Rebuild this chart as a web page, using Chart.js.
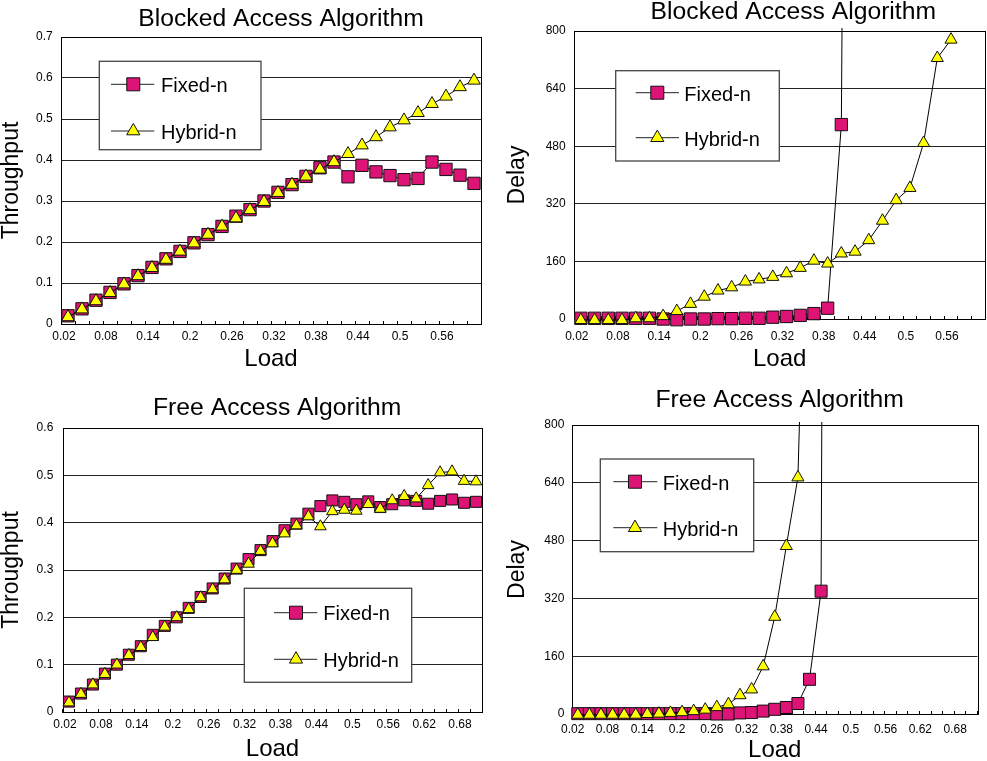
<!DOCTYPE html>
<html>
<head>
<meta charset="utf-8">
<script src="https://cdn.jsdelivr.net/npm/chart.js"></script>
<style>
  html, body { margin: 0; padding: 0; background: #fff; }
  body { width: 987px; height: 761px; overflow: hidden; position: relative; }
  canvas { position: absolute; }
</style>
</head>
<body>
<canvas id="c1" width="493" height="380" style="left:0px;top:0px;width:493px;height:380px"></canvas>
<canvas id="c2" width="500" height="380" style="left:495px;top:0px;width:500px;height:380px"></canvas>
<canvas id="c3" width="493" height="376" style="left:0px;top:385px;width:493px;height:376px"></canvas>
<canvas id="c4" width="492" height="376" style="left:495px;top:385px;width:492px;height:376px"></canvas>
<script>
// ---------- data ----------
const loadsBlocked = [0.02,0.04,0.06,0.08,0.1,0.12,0.14,0.16,0.18,0.2,0.22,0.24,0.26,0.28,0.3,0.32,0.34,0.36,0.38,0.4,0.42,0.44,0.46,0.48,0.5,0.52,0.54,0.56,0.58,0.6];
const loadsFree = [0.02,0.04,0.06,0.08,0.1,0.12,0.14,0.16,0.18,0.2,0.22,0.24,0.26,0.28,0.3,0.32,0.34,0.36,0.38,0.4,0.42,0.44,0.46,0.48,0.5,0.52,0.54,0.56,0.58,0.6,0.62,0.64,0.66,0.68,0.7];

const seriesNames = ['Fixed-n', 'Hybrid-n'];

// Blocked Access – Throughput
const blockedThroughputFixed  = [0.02,0.037,0.058,0.077,0.098,0.118,0.138,0.159,0.177,0.198,0.218,0.238,0.263,0.279,0.3,0.321,0.34,0.36,0.381,0.395,0.359,0.387,0.371,0.362,0.352,0.355,0.395,0.377,0.363,0.343];
const blockedThroughputHybrid = [0.017,0.036,0.056,0.076,0.097,0.117,0.137,0.157,0.177,0.197,0.218,0.238,0.258,0.278,0.298,0.32,0.34,0.36,0.377,0.395,0.415,0.436,0.456,0.48,0.497,0.515,0.537,0.555,0.578,0.594];

// Blocked Access – Delay
const blockedDelayFixed  = [2,2,2,2,2,2,0,-2,0,0,1,1,2,2,5,7,10,15,30,540,6000];
const blockedDelayHybrid = [-3,-3,-3,-3,2,2,8,22,42,62,79,88,104,110,117,127,142,162,154,182,187,219,273,330,364,489,725,776];

// Free Access – Throughput
const freeThroughputFixed  = [0.022,0.039,0.058,0.081,0.1,0.121,0.139,0.163,0.182,0.2,0.22,0.243,0.261,0.282,0.303,0.323,0.342,0.361,0.384,0.398,0.419,0.435,0.447,0.444,0.439,0.445,0.433,0.439,0.447,0.446,0.44,0.446,0.449,0.442,0.444];
const freeThroughputHybrid = [0.02,0.038,0.058,0.08,0.1,0.12,0.137,0.158,0.18,0.2,0.217,0.242,0.259,0.28,0.3,0.313,0.34,0.356,0.377,0.394,0.413,0.392,0.424,0.427,0.425,0.439,0.429,0.447,0.456,0.451,0.479,0.506,0.508,0.488,0.487];

// Free Access – Delay
const freeDelayFixed  = [1,1,1,1,1,1,1,1,1,1,1,1,0,0,3,4,8,13,18,29,96,340,8000];
const freeDelayHybrid = [-2,-2,-2,-2,-2,-2,0,1,3,5,8,12,19,27,52,68,132,269,465,655,1800];

// ---------- styling ----------
const FONT = '"Liberation Sans", Arial, Helvetica, sans-serif';
const MAGENTA = '#DD1475';
const YELLOW = '#FFFF00';
Chart.defaults.font.family = FONT;
Chart.defaults.color = '#000';

function drawMarker(ctx, style, x, y, r, fill) {
  ctx.beginPath();
  if (style === 'rect') {
    const s = Math.SQRT1_2 * r;
    ctx.rect(x - s, y - s, 2 * s, 2 * s);
  } else {
    const a = 2 * Math.PI / 3;
    let rad = 0;
    ctx.moveTo(x + Math.sin(rad) * r, y - Math.cos(rad) * r);
    rad += a; ctx.lineTo(x + Math.sin(rad) * r, y - Math.cos(rad) * r);
    rad += a; ctx.lineTo(x + Math.sin(rad) * r, y - Math.cos(rad) * r);
    ctx.closePath();
  }
  ctx.fillStyle = fill;
  ctx.fill();
  ctx.strokeStyle = '#111';
  ctx.lineWidth = 1;
  ctx.stroke();
}

function makeChart(id, cfg) {
  const plugin = {
    id: 'frameLegend',
    afterLayout(chart) {
      const tb = chart.titleBlock;
      if (tb) {
        const w = tb.right - tb.left;
        tb.left = cfg.titleX - w / 2;
        tb.right = cfg.titleX + w / 2;
      }
    },
    beforeDatasetsDraw(chart) {
      const {ctx, chartArea: a} = chart;
      ctx.save();
      ctx.strokeStyle = '#000';
      ctx.lineWidth = 1;
      ctx.strokeRect(Math.round(a.left) + 0.5, Math.round(a.top) + 0.5,
                     Math.round(a.right - a.left), Math.round(a.bottom - a.top));
      ctx.restore();
    },
    afterDatasetsDraw(chart) {
      const L = cfg.legend;
      const ctx = chart.ctx;
      ctx.save();
      ctx.fillStyle = '#fff';
      ctx.fillRect(L.box[0], L.box[1], L.box[2] - L.box[0], L.box[3] - L.box[1]);
      ctx.strokeStyle = '#444';
      ctx.lineWidth = 1.3;
      ctx.strokeRect(L.box[0], L.box[1], L.box[2] - L.box[0], L.box[3] - L.box[1]);
      chart.data.datasets.forEach((ds, i) => {
        const y = L.ys[i];
        ctx.strokeStyle = '#222';
        ctx.lineWidth = 1;
        ctx.beginPath();
        ctx.moveTo(L.lx[0], y);
        ctx.lineTo(L.lx[1], y);
        ctx.stroke();
        drawMarker(ctx, ds.pointStyle, L.mx, y, ds.pointStyle === 'rect' ? 9.2 : 7.6, ds.pointBackgroundColor);
        ctx.fillStyle = '#000';
        ctx.font = '20px ' + FONT;
        ctx.textAlign = 'left';
        ctx.textBaseline = 'alphabetic';
        ctx.fillText(ds.label, L.tx, y + L.bo);
      });
      ctx.restore();
    }
  };

  const labels = cfg.loads.map(v => String(v));
  new Chart(document.getElementById(id), {
    type: 'line',
    data: {
      labels: labels,
      datasets: [
        {
          label: seriesNames[0], data: cfg.fixed,
          pointStyle: 'rect', pointRadius: cfg.rSq, pointHoverRadius: cfg.rSq,
          pointBackgroundColor: MAGENTA, pointBorderColor: '#111', pointBorderWidth: 1,
          borderColor: '#000', borderWidth: 1, tension: 0, fill: false,
          order: 1, clip: cfg.clip
        },
        {
          label: seriesNames[1], data: cfg.hybrid,
          pointStyle: 'triangle', pointRadius: cfg.rTri, pointHoverRadius: cfg.rTri,
          pointBackgroundColor: YELLOW, pointBorderColor: '#111', pointBorderWidth: 1,
          borderColor: '#000', borderWidth: 1, tension: 0, fill: false,
          order: 0, clip: cfg.clip
        }
      ]
    },
    options: {
      responsive: false,
      animation: false,
      events: [],
      layout: { padding: { left: 0, right: cfg.padRight, top: 0, bottom: 0 } },
      plugins: {
        legend: { display: false },
        tooltip: { enabled: false },
        title: {
          display: true, text: cfg.title, color: '#000',
          font: { size: 24.7, weight: 'normal', lineHeight: 1 },
          padding: { top: cfg.titlePad[0], bottom: cfg.titlePad[1] }
        }
      },
      scales: {
        x: {
          type: 'category', offset: true,
          grid: { display: true, drawOnChartArea: false, drawTicks: true, tickLength: -3, color: '#000', offset: true },
          border: { display: true, color: '#000', width: 1 },
          ticks: {
            autoSkip: false, maxRotation: 0, minRotation: 0,
            padding: cfg.xTickPad, labelOffset: cfg.xLabelOffset,
            font: { size: 12 }, color: '#000',
            callback: function (v, i) { return i % 3 === 0 ? this.getLabelForValue(v) : ''; }
          },
          title: {
            display: true, text: 'Load', color: '#000',
            font: { size: 24, lineHeight: 1 },
            padding: { top: cfg.xTitlePad, bottom: cfg.xTitlePad }
          },
          afterFit: s => { s.height = cfg.xH; }
        },
        y: {
          min: cfg.yMin, max: cfg.yMax,
          grid: { color: '#222', lineWidth: 1, drawTicks: false },
          border: { display: true, color: '#000', width: 1 },
          ticks: { stepSize: cfg.yStep, padding: cfg.yTickPad, font: { size: 12 }, color: '#000' },
          title: {
            display: true, text: cfg.yTitle, color: '#000',
            font: { size: 23, lineHeight: 1 },
            padding: { top: cfg.yTitlePad, bottom: cfg.yTitlePad }
          },
          afterFit: s => { s.width = cfg.yW; }
        }
      }
    },
    plugins: [plugin]
  });
}

const delayClip = { left: 12, right: 12, top: 3, bottom: 14 };

makeChart('c1', {
  title: 'Blocked Access Algorithm', titleX: 281, titlePad: [6.65, 5.65],
  loads: loadsBlocked, fixed: blockedThroughputFixed, hybrid: blockedThroughputHybrid,
  yMin: 0, yMax: 0.7, yStep: 0.1, yTitle: 'Throughput',
  yW: 61, padRight: 12, xH: 56,
  xTickPad: 8.8, xLabelOffset: -4, xTitlePad: 8.4, yTickPad: 8.3, yTitlePad: 0.5,
  rSq: 8.7, rTri: 7.3, clip: false,
  legend: { box: [99.3, 61.3, 261, 149.7], ys: [84.3, 131], lx: [111, 154.3], mx: 133.3, tx: 161, bo: 7.8 }
});

makeChart('c2', {
  title: 'Blocked Access Algorithm', titleX: 298.3, titlePad: [0, 6.3],
  loads: loadsBlocked, fixed: blockedDelayFixed, hybrid: blockedDelayHybrid,
  yMin: 0, yMax: 800, yStep: 160, yTitle: 'Delay',
  yW: 79, padRight: 6, xH: 61,
  xTickPad: 13.8, xLabelOffset: -4, xTitlePad: 8.4, yTickPad: 8.3, yTitlePad: 11.2,
  rSq: 8.7, rTri: 7.0, clip: delayClip,
  legend: { box: [120.7, 70.7, 284.3, 161], ys: [92.7, 137.7], lx: [140.7, 184], mx: 162.3, tx: 189.3, bo: 8.5 }
});

makeChart('c3', {
  title: 'Free Access Algorithm', titleX: 277.2, titlePad: [10.35, 7.95],
  loads: loadsFree, fixed: freeThroughputFixed, hybrid: freeThroughputHybrid,
  yMin: 0, yMax: 0.6, yStep: 0.1, yTitle: 'Throughput',
  yW: 63, padRight: 11, xH: 49,
  xTickPad: 8.8, xLabelOffset: -4, xTitlePad: 0, yTickPad: 9.7, yTitlePad: 0.5,
  rSq: 7.8, rTri: 6.7, clip: false,
  legend: { box: [244.3, 203.3, 411.7, 297.3], ys: [227.7, 274.3], lx: [274, 317.3], mx: 296, tx: 323.3, bo: 7.3 }
});

makeChart('c4', {
  title: 'Free Access Algorithm', titleX: 284.7, titlePad: [2.65, 12.65],
  loads: loadsFree, fixed: freeDelayFixed, hybrid: freeDelayHybrid,
  yMin: 0, yMax: 800, yStep: 160, yTitle: 'Delay',
  yW: 77, padRight: 2, xH: 47,
  xTickPad: 11.5, xLabelOffset: -5, xTitlePad: -1.6, yTickPad: 7.7, yTitlePad: 11.2,
  rSq: 8.5, rTri: 7.0, clip: delayClip,
  legend: { box: [105.3, 74, 258.7, 166.7], ys: [96.7, 142.7], lx: [118.3, 162.3], mx: 140, tx: 167.7, bo: 8.5 }
});
</script>
</body>
</html>
